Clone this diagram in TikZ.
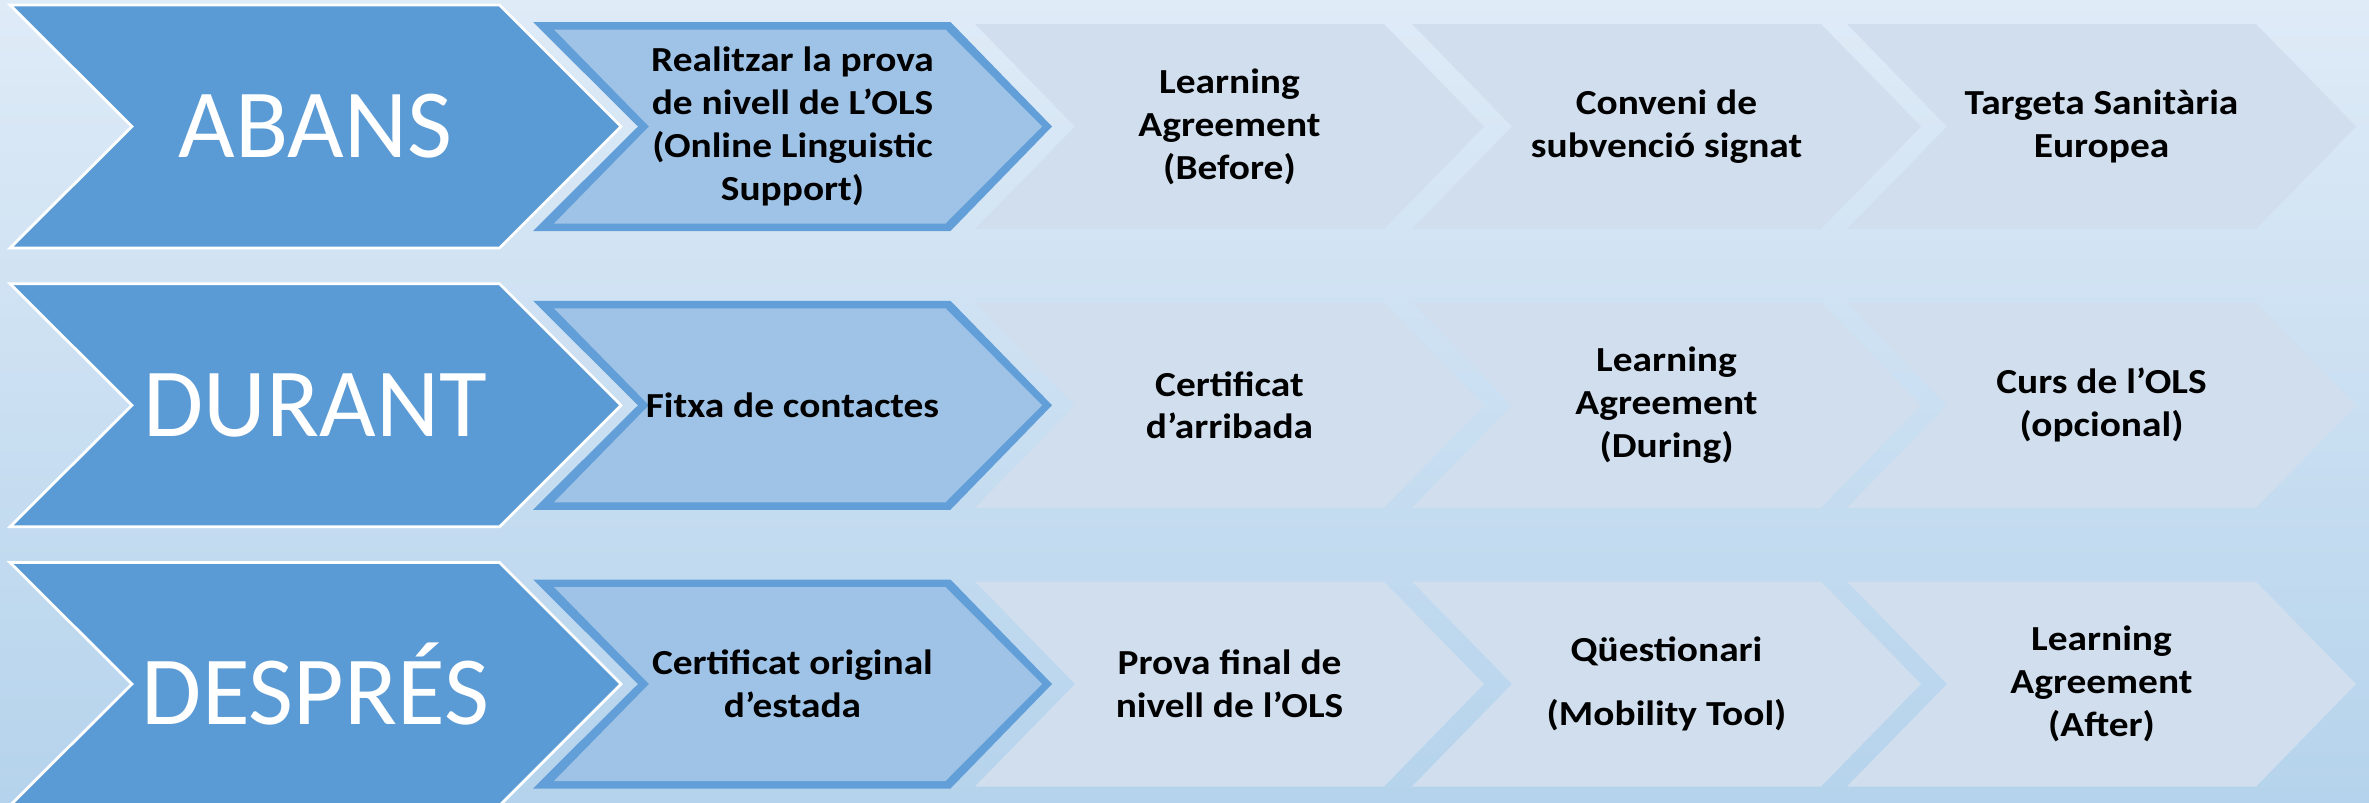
\documentclass[tikz,border=0pt]{standalone}
\usepackage{fontspec}
\setmainfont{Carlito}[FakeStretch=1.12]
\newfontfamily\phasefont{Carlito}
\usepackage{tikz}

\definecolor{bgtop}{HTML}{DFEBF7}
\definecolor{bgbottom}{HTML}{B5D3EC}
\definecolor{phaseblue}{HTML}{5B9BD5}
\definecolor{frameblue}{HTML}{629FD8}
\definecolor{selblue}{HTML}{9FC3E6}
\definecolor{paleblue}{HTML}{D0DEEE}

\tikzset{
  phase/.style={fill=phaseblue, draw=white, line width=0.8pt, line join=miter},
  stepframe/.style={fill=frameblue},
  stepfill/.style={fill=selblue},
  todo/.style={fill=paleblue},
  phaselabel/.style={text=white, font=\phasefont\fontsize{27.8pt}{30pt}\selectfont},
  steplabel/.style={align=center, font=\bfseries\fontsize{10pt}{12.2pt}\selectfont}
}

\begin{document}
\begin{tikzpicture}[x=0.01cm, y=-0.01cm]
                \useasboundingbox (0,0) rectangle (2369,803);
                \clip (0,0) rectangle (2369,803);
                \shade [top color=bgtop, bottom color=bgbottom] (0,0) rectangle (2369,803);

                % Abans
                \filldraw [phase] (10,5) -- ++(489.5,0) -- ++(121.5,121.5) -- ++(-121.5,121.5) -- ++(-489.5,0) -- ++(122,-121.5) -- cycle;
                \fill [stepframe] (533,22) -- ++(417.5,0) -- ++(101.5,104.5) -- ++(-101.5,104.5) -- ++(-417.5,0) -- ++(105,-104.5) -- cycle;
                \fill [stepfill] (554,29.5) -- ++(391.5,0) -- ++(96.5,97) -- ++(-96.5,97) -- ++(-391.5,0) -- ++(95,-97) -- cycle;
                \fill [todo] (975,24) -- ++(409,0) -- ++(100,102.5) -- ++(-100,102.5) -- ++(-409,0) -- ++(100,-102.5) -- cycle;
                \fill [todo] (1412,24) -- ++(409,0) -- ++(100,102.5) -- ++(-100,102.5) -- ++(-409,0) -- ++(100,-102.5) -- cycle;
                \fill [todo] (1847,24) -- ++(409,0) -- ++(100,102.5) -- ++(-100,102.5) -- ++(-409,0) -- ++(100,-102.5) -- cycle;
                \node [phaselabel] (abans) at (315.5,126.5) {ABANS};
                \node [steplabel] (olstest) at (792.5,126.5) {Realitzar la prova\\de nivell de L’OLS\\(Online Linguistic\\Support)};
                \node [steplabel] (labefore) at (1229.5,126.5) {Learning\\Agreement\\(Before)};
                \node [steplabel] (conveni) at (1666.5,126.5) {Conveni de\\subvenció signat};
                \node [steplabel] (targeta) at (2101.5,126.5) {Targeta Sanitària\\Europea};

                % Durant
                \filldraw [phase] (10,283.75) -- ++(489.5,0) -- ++(121.5,121.5) -- ++(-121.5,121.5) -- ++(-489.5,0) -- ++(122,-121.5) -- cycle;
                \fill [stepframe] (533,300.75) -- ++(417.5,0) -- ++(101.5,104.5) -- ++(-101.5,104.5) -- ++(-417.5,0) -- ++(105,-104.5) -- cycle;
                \fill [stepfill] (554,308.25) -- ++(391.5,0) -- ++(96.5,97) -- ++(-96.5,97) -- ++(-391.5,0) -- ++(95,-97) -- cycle;
                \fill [todo] (975,302.75) -- ++(409,0) -- ++(100,102.5) -- ++(-100,102.5) -- ++(-409,0) -- ++(100,-102.5) -- cycle;
                \fill [todo] (1412,302.75) -- ++(409,0) -- ++(100,102.5) -- ++(-100,102.5) -- ++(-409,0) -- ++(100,-102.5) -- cycle;
                \fill [todo] (1847,302.75) -- ++(409,0) -- ++(100,102.5) -- ++(-100,102.5) -- ++(-409,0) -- ++(100,-102.5) -- cycle;
                \node [phaselabel] (durant) at (315.5,405.25) {DURANT};
                \node [steplabel] (fitxa) at (792.5,405.25) {Fitxa de contactes};
                \node [steplabel] (arribada) at (1229.5,405.25) {Certificat\\d’arribada};
                \node [steplabel] (laduring) at (1666.5,405.25) {Learning\\Agreement\\(During)};
                \node [steplabel] (olscurs) at (2101.5,405.25) {Curs de l’OLS\\(opcional)};

                % Despres
                \filldraw [phase] (10,562.5) -- ++(489.5,0) -- ++(121.5,121.5) -- ++(-121.5,121.5) -- ++(-489.5,0) -- ++(122,-121.5) -- cycle;
                \fill [stepframe] (533,579.5) -- ++(417.5,0) -- ++(101.5,104.5) -- ++(-101.5,104.5) -- ++(-417.5,0) -- ++(105,-104.5) -- cycle;
                \fill [stepfill] (554,587) -- ++(391.5,0) -- ++(96.5,97) -- ++(-96.5,97) -- ++(-391.5,0) -- ++(95,-97) -- cycle;
                \fill [todo] (975,581.5) -- ++(409,0) -- ++(100,102.5) -- ++(-100,102.5) -- ++(-409,0) -- ++(100,-102.5) -- cycle;
                \fill [todo] (1412,581.5) -- ++(409,0) -- ++(100,102.5) -- ++(-100,102.5) -- ++(-409,0) -- ++(100,-102.5) -- cycle;
                \fill [todo] (1847,581.5) -- ++(409,0) -- ++(100,102.5) -- ++(-100,102.5) -- ++(-409,0) -- ++(100,-102.5) -- cycle;
                \node [phaselabel] (despres) at (315.5,684) {DESPRÉS};
                \node [steplabel] (estada) at (792.5,684) {Certificat original\\d’estada};
                \node [steplabel] (provafinal) at (1229.5,684) {Prova final de\\nivell de l’OLS};
                \node [steplabel] (questionari) at (1666.5,684) {Qüestionari\\[0.21cm](Mobility Tool)};
                \node [steplabel] (laafter) at (2101.5,684) {Learning\\Agreement\\(After)};
            \end{tikzpicture}
\end{document}
